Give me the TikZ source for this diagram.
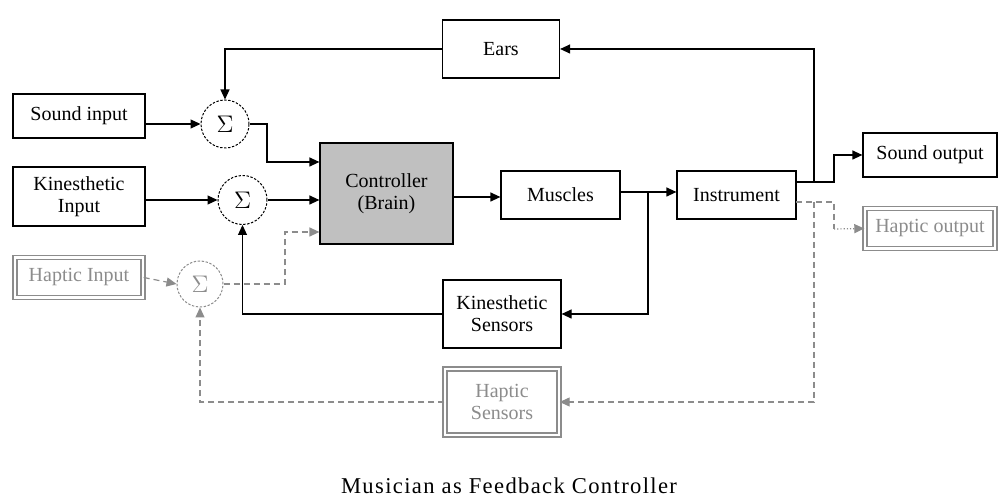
\documentclass[tikz,border=0pt]{standalone}
\usepackage{fontspec}
\setmainfont{Liberation Serif}
\usetikzlibrary{arrows.meta}
\definecolor{hapgray}{RGB}{140,140,140}
\definecolor{ctrlgray}{RGB}{192,192,192}
\tikzset{
  blk/.style={draw=black, line width=0.6pt, fill=white, inner sep=1pt, align=center, font=\fontsize{10}{11}\selectfont},
  hapblk/.style={blk, draw=hapgray, text=hapgray, double=white, double distance=1.3pt, line width=0.7pt},
  sumnode/.style={circle, draw=black, dash pattern=on 1.2pt off 0.8pt, line width=0.5pt, minimum size=24pt, inner sep=0pt, font=\fontsize{13}{14}\selectfont},
  hapsum/.style={sumnode, draw=hapgray, text=hapgray},
  sig/.style={line width=0.6pt, -{Triangle[length=5pt,width=4.5pt]}},
  hapsig/.style={sig, draw=hapgray, dashed, dash pattern=on 3pt off 2pt}
}
\begin{document}
\begin{tikzpicture}[x=0.5pt, y=-0.5pt]
  \useasboundingbox (0,0) rectangle (998,497);
  % blocks
  \node[blk, minimum width=58.5pt, minimum height=29pt] (ears) at (501,49) {Ears};
  \node[blk, minimum width=66pt, minimum height=22pt] (sndin) at (79,116) {Sound input};
  \node[blk, minimum width=66pt, minimum height=29.5pt] (kinin) at (79,196.5) {Kinesthetic\\Input};
  \node[hapblk, minimum width=64pt, minimum height=20pt] (hapin) at (79,277.5) {Haptic Input};
  \node[blk, fill=ctrlgray, minimum width=66.5pt, minimum height=50.5pt] (ctrl) at (386.5,193.5) {Controller\\(Brain)};
  \node[blk, minimum width=59.5pt, minimum height=24pt] (musc) at (560.5,195) {Muscles};
  \node[blk, minimum width=59.5pt, minimum height=24pt] (instr) at (736.5,195) {Instrument};
  \node[blk, minimum width=67pt, minimum height=22pt] (sndout) at (930,155) {Sound output};
  \node[hapblk, minimum width=65pt, minimum height=20pt] (hapout) at (930,228.5) {Haptic output};
  \node[blk, minimum width=59pt, minimum height=34pt] (ksens) at (502,314) {Kinesthetic\\Sensors};
  \node[hapblk, minimum width=57pt, minimum height=33pt] (hsens) at (502,402) {Haptic\\Sensors};
  % summing points
  \node[sumnode] (sum1) at (225,124) {$\Sigma$};
  \node[sumnode, minimum size=24.5pt] (sum2) at (242.5,200) {$\Sigma$};
  \node[hapsum, minimum size=23pt] (sum3) at (200,284) {$\Sigma$};
  % junctions
  \coordinate (j1) at (267,162);
  \coordinate (j2) at (285,232);
  \coordinate (j3) at (648,192);
  \coordinate (iout) at (796,182);
  \coordinate (j4) at (814,182);
  \coordinate (j5) at (834,182);
  \coordinate (hout) at (796,202);
  \coordinate (j6) at (814,202);
  \coordinate (j7) at (834,229);
  % signals
  \draw[sig] (sum1.west -| sndin.east) -- (sum1.west);
  \draw[sig] (sum2.west -| kinin.east) -- (sum2.west);
  \draw[sig] (sum1.east) -| (j1) -- (j1 -| ctrl.west);
  \draw[sig] (sum2.east) -- (sum2.east -| ctrl.west);
  \draw[sig] (ctrl.east |- 0,197) -- (musc.west |- 0,197);
  \draw[sig] (musc.east |- j3) -- (instr.west |- j3);
  \draw[sig] (j3) |- (ksens.east);
  \draw[sig] (ksens.west) -| (sum2.south);
  \draw[sig] (iout) -- (j5) |- (sndout.west);
  \draw[sig] (j4) |- (ears.east);
  \draw[sig] (ears.west) -| (sum1.north);
  % haptic path
  \draw[hapsig] (hapin.east) -- (sum3.west);
  \draw[hapsig] (sum3.east) -| (j2) -- (j2 -| ctrl.west);
  \draw[hapsig, -] (hout) -| (j7);
  \draw[hapsig, densely dotted] (j7) -- (hapout.west);
  \draw[hapsig] (j6) |- (hsens.east);
  \draw[hapsig] (hsens.west) -| (sum3.south);
  % caption
  \node[font=\fontsize{11.3}{13}\selectfont\addfontfeature{LetterSpace=6}] (title) at (509,486) {Musician as Feedback Controller};
\end{tikzpicture}
\end{document}
